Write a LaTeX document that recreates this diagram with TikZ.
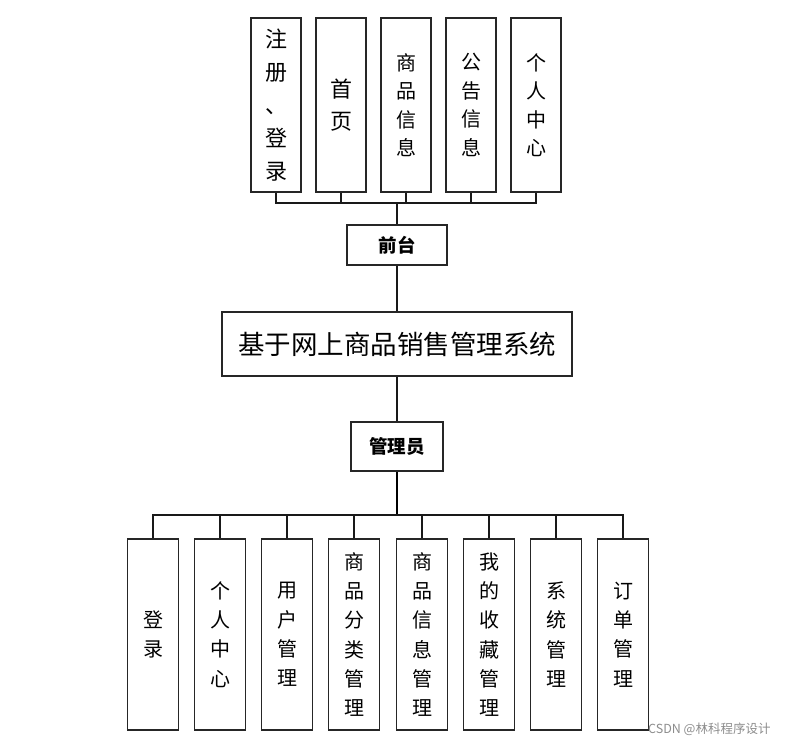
\documentclass[tikz,border=0pt]{standalone}
\usepackage{fontspec}
\newfontfamily\cjk{Noto Sans CJK SC}
\begin{document}
\begin{tikzpicture}[x=1pt,y=-1pt,
  box/.style={draw=black!85, line width=1.6pt, fill=white, inner sep=0pt, align=center},
  topbox/.style={box, minimum width=50pt, minimum height=174pt},
  botbox/.style={box, minimum width=51pt, minimum height=191pt, font=\cjk\fontsize{20}{29.3}\selectfont},
  conn/.style={draw=black!90, line width=1.6pt},
  thickconn/.style={draw=black, line width=2.8pt}
]
\useasboundingbox (0,0) rectangle (795,743);

% top boxes
\node[topbox, font=\cjk\fontsize{22}{33}\selectfont] (t1) at (276,105) {注\\册\\、\\登\\录};
\node[topbox, font=\cjk\fontsize{22}{32}\selectfont] (t2) at (341,105) {首\\页};
\node[topbox, font=\cjk\fontsize{20}{28.5}\selectfont] (t3) at (406,105) {商\\品\\信\\息};
\node[topbox, font=\cjk\fontsize{20}{28.5}\selectfont] (t4) at (471,105) {公\\告\\信\\息};
\node[topbox, font=\cjk\fontsize{20}{28.5}\selectfont] (t5) at (536,105) {个\\人\\中\\心};

\coordinate (tb) at (397,203);

% middle
\node[box, minimum width=100pt, minimum height=40pt, font=\cjk\bfseries\fontsize{18.5}{21}\selectfont] (qt) at (397,245) {前台};
\node[box, minimum width=350pt, minimum height=64pt, font=\cjk\fontsize{26.5}{30}\selectfont] (main) at (397,344) {基于网上商品销售管理系统};
\node[box, minimum width=92pt, minimum height=49pt, font=\cjk\bfseries\fontsize{18.5}{21}\selectfont] (gly) at (397,446.5) {管理员};

\coordinate (bb) at (397,515);

% bottom boxes
\node[botbox] (b1) at (153,634.5) {登\\录};
\node[botbox] (b2) at (220,634.5) {个\\人\\中\\心};
\node[botbox] (b3) at (287,634.5) {用\\户\\管\\理};
\node[botbox] (b4) at (354,634.5) {商\\品\\分\\类\\管\\理};
\node[botbox] (b5) at (422,634.5) {商\\品\\信\\息\\管\\理};
\node[botbox] (b6) at (489,634.5) {我\\的\\收\\藏\\管\\理};
\node[botbox] (b7) at (556,634.5) {系\\统\\管\\理};
\node[botbox] (b8) at (623,634.5) {订\\单\\管\\理};

% top connectors
\draw[conn] (t1.south) -- (t1.south |- tb) -- (t5.south |- tb) -- (t5.south);
\foreach \n in {t2,t3,t4} \draw[conn] (\n.south) -- (\n.south |- tb);
\draw[conn] (tb) -- (qt.north);
\draw[conn] (qt.south) -- (main.north);
\draw[conn] (main.south) -- (gly.north);

% bottom connectors
\draw[thickconn] (gly.south) -- (bb);
\draw[conn] (b1.north) -- (b1.north |- bb) -- (b8.north |- bb) -- (b8.north);
\foreach \n in {b2,b3,b4,b5,b6,b7} \draw[conn] (\n.north) -- (\n.north |- bb);

% watermark
\node[anchor=west, text=black!45, font=\cjk\fontsize{12.5}{14}\selectfont, inner sep=0pt] (wm) at (648,729) {CSDN @林科程序设计};
\end{tikzpicture}
\end{document}
